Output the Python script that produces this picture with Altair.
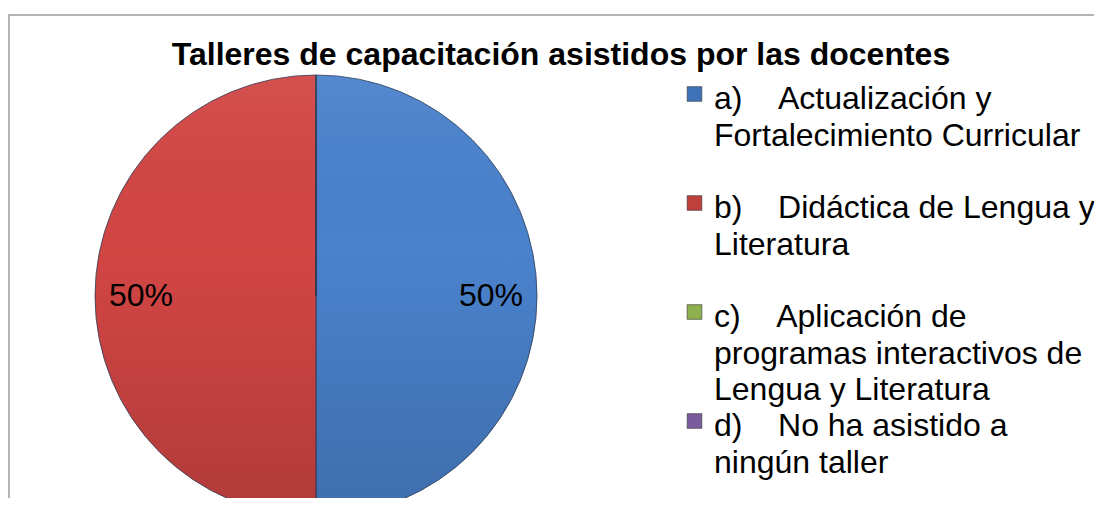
import altair as alt
import pandas as pd

NB = "\u00a0"

title_text = "Talleres de capacitación asistidos por las docentes"
categories = ["a", "b", "c", "d"]
values = [50, 50, 0, 0]
legend_labels = [
    "a)" + NB * 4 + "Actualización y\nFortalecimiento Curricular",
    "b)" + NB * 4 + "Didáctica de Lengua y\nLiteratura",
    "c)" + NB * 4 + "Aplicación de\nprogramas interactivos de\nLengua y Literatura",
    "d)" + NB * 4 + "No ha asistido a\nningún taller",
]
pie_colors = ["#4a82cc", "#d24644", "#9bbb59", "#8064a2"]
legend_colors = ["#4072b8", "#bd403d", "#8fb04e", "#7a5c9c"]

total = sum(values)
df = pd.DataFrame({
    "cat": categories,
    "idx": list(range(len(categories))),
    "value": values,
    "pct": [f"{round(v * 100 / total)}%" for v in values],
    "label": legend_labels,
})

FONT = "Liberation Sans"
CX, CY, R = 308, 288, 221

base = alt.Chart(df)

border = alt.Chart(pd.DataFrame({"k": [0]})).mark_rect(
    fill="white", stroke="#9c9c9c", strokeWidth=1.5
).encode(
    x=alt.value(1), x2=alt.value(1130), y=alt.value(7), y2=alt.value(560)
)

title = alt.Chart(pd.DataFrame({"t": [title_text]})).mark_text(
    font=FONT, fontSize=32, fontWeight="bold", color="black",
    align="center", baseline="alphabetic"
).encode(
    x=alt.value(553), y=alt.value(57), text="t:N"
)

theta = alt.Theta("value:Q", stack=True)

arcs = base.mark_arc(outerRadius=R, stroke="#2c3c55", strokeWidth=0.8).encode(
    theta=theta,
    color=alt.Color("cat:N", scale=alt.Scale(domain=categories, range=pie_colors), legend=None),
    order=alt.Order("idx:O"),
    x=alt.value(CX), y=alt.value(CY),
)

shade = base.mark_arc(
    outerRadius=R,
    color=alt.Gradient(
        gradient="linear", x1=0, y1=0, x2=0, y2=1,
        stops=[
            alt.GradientStop(color="rgba(255,255,255,0.06)", offset=0),
            alt.GradientStop(color="rgba(0,0,0,0.0)", offset=0.4),
            alt.GradientStop(color="rgba(0,0,0,0.16)", offset=1),
        ],
    ),
).encode(
    theta=theta,
    detail="cat:N",
    order=alt.Order("idx:O"),
    x=alt.value(CX), y=alt.value(CY),
)

pct_labels = base.mark_text(
    radius=175, font=FONT, fontSize=32, color="black", baseline="middle"
).encode(
    theta=theta,
    detail="cat:N",
    order=alt.Order("idx:O"),
    text=alt.condition("datum.value > 0", "pct:N", alt.value("")),
    x=alt.value(CX), y=alt.value(CY),
)

yscale = alt.Scale(type="point", domain=categories, range=[101, 428], padding=0)

squares = base.mark_square(size=215, stroke="#333333", strokeWidth=0.6, opacity=1).encode(
    x=alt.value(686.5),
    y=alt.Y("cat:N", scale=yscale, axis=None),
    yOffset=alt.value(-15),
    fill=alt.Fill("cat:N", scale=alt.Scale(domain=categories, range=legend_colors), legend=None),
)

legend_text = base.mark_text(
    font=FONT, fontSize=32, align="left", baseline="alphabetic",
    lineBreak="\n", lineHeight=36.5, color="black"
).encode(
    x=alt.value(706),
    y=alt.Y("cat:N", scale=yscale, axis=None),
    text="label:N",
)

chart = alt.layer(
    border, title, arcs, shade, pct_labels, squares, legend_text
).resolve_scale(
    color="independent", fill="independent"
).properties(
    width=1086, height=490, padding=0, autosize=alt.AutoSizeParams(type="none")
).configure_view(stroke=None)

chart.save("out.html", embed_options={"renderer": "svg", "actions": False})
